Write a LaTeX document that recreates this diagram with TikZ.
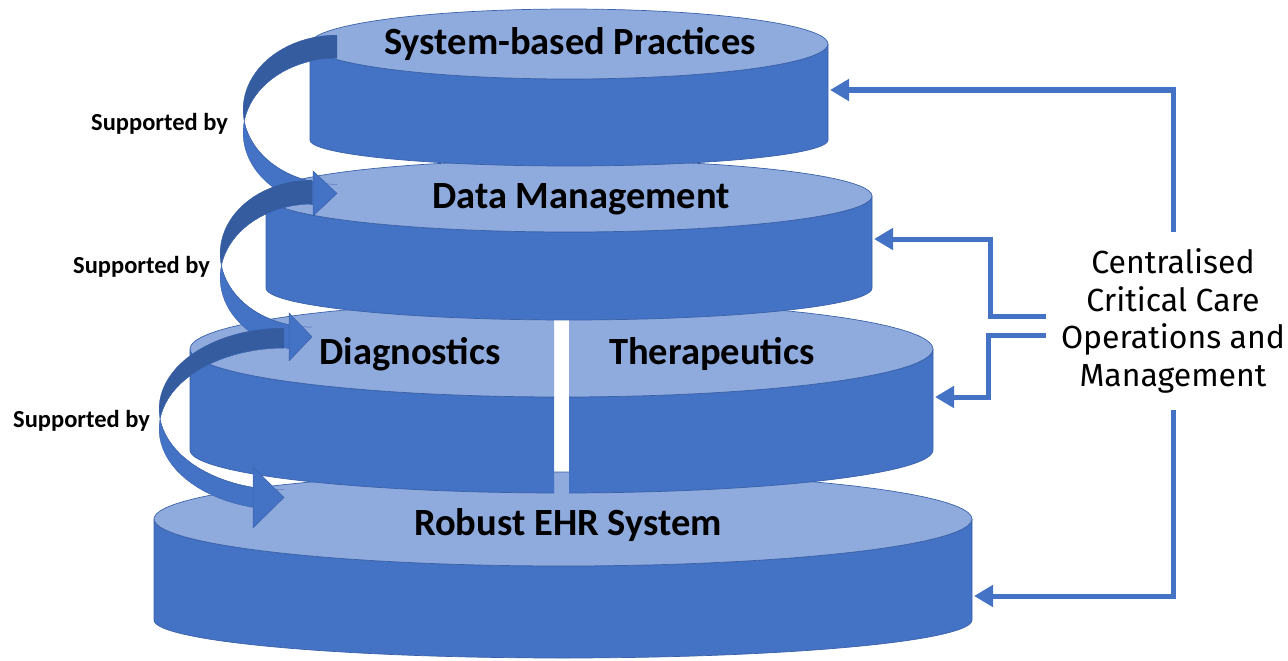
\documentclass[tikz,border=0pt]{standalone}
\usepackage{fontspec}
\setmainfont{Carlito}
\newfontfamily\dinfont{Fira Sans}
\usetikzlibrary{positioning,arrows.meta}

\definecolor{sidecol}{HTML}{4472C4}
\definecolor{topcol}{HTML}{8FAADC}
\definecolor{edgecol}{HTML}{3A62AB}
\definecolor{backcol}{HTML}{355C9F}

% layer disk: centre x, x radius, top y, top y radius, bottom y, bottom y radius
\newcommand{\layerdisk}[6]{%
  \filldraw[sidefill] plot[domain=180:360] ({#1+#2*cos(\x)},{#5-#6*sin(\x)})
    -- plot[domain=360:180] ({#1+#2*cos(\x)},{#3-#4*sin(\x)}) -- cycle;
  \filldraw[topfill] plot[domain=0:360] ({#1+#2*cos(\x)},{#3-#4*sin(\x)}) -- cycle;
}

% curved arrow: tail x, tail top y, x radius, y radius, band, head base x, head half width
\newcommand{\supportarrow}[7]{%
  \pgfmathsetmacro\headmid{#2+#4+#4*sqrt(1-((#6-#1)/#3)^2)+#5/2}
  \begin{scope}
    \clip ({#1-#3-3},{#2-3}) rectangle (#1,{#2+2*#4+#5+3});
    \clip plot[domain=0:360] ({#1+#3*cos(\x)},{#2+#4-#4*sin(\x)}) -- cycle;
    \filldraw[backfill,even odd rule]
      plot[domain=0:360] ({#1+#3*cos(\x)},{#2+#4-#4*sin(\x)}) -- cycle
      plot[domain=0:360] ({#1+#3*cos(\x)},{#2+#4+#5-#4*sin(\x)}) -- cycle;
  \end{scope}
  \begin{scope}
    \clip ({#1-#3-3},{#2-3}) rectangle (#6,{#2+2*#4+#5+3});
    \clip plot[domain=0:360] ({#1+#3*cos(\x)},{#2+#4+#5-#4*sin(\x)}) -- cycle;
    \filldraw[frontfill,even odd rule]
      plot[domain=0:360] ({#1+#3*cos(\x)},{#2+#4-#4*sin(\x)}) -- cycle
      plot[domain=0:360] ({#1+#3*cos(\x)},{#2+#4+#5-#4*sin(\x)}) -- cycle;
  \end{scope}
  \filldraw[frontfill] (#6,{\headmid-#7}) -- (#1,\headmid) -- (#6,{\headmid+#7}) -- cycle;
}

\begin{document}
\begin{tikzpicture}[
  x=1pt, y=-1pt,
  samples=90,
  sidefill/.style={fill=sidecol,draw=edgecol,line width=0.7pt},
  topfill/.style={fill=topcol,draw=edgecol,line width=0.7pt},
  backfill/.style={fill=backcol,draw=edgecol,line width=0.5pt},
  frontfill/.style={fill=sidecol,draw=edgecol,line width=0.5pt},
  layerlabel/.style={font=\fontsize{38.5}{42}\selectfont\bfseries,inner sep=0pt,anchor=base},
  suplabel/.style={font=\fontsize{24.5}{28}\selectfont\bfseries,inner sep=0pt,anchor=base west},
  feedline/.style={draw=sidecol,line width=5pt,-{Triangle[length=19pt,width=21pt]}}
]
\useasboundingbox (0,0) rectangle (1288,661);

% layers, bottom first
\layerdisk{563}{409}{519}{47}{620}{38}
\begin{scope}
  \clip (0,0) rectangle (554,661) (569,0) rectangle (1288,661);
  \layerdisk{561.5}{371.5}{349}{48}{450}{43}
\end{scope}
\layerdisk{569}{303}{196}{36}{288}{32}
\layerdisk{569}{259}{44}{35}{140}{26}

\node[layerlabel] (sbp) at (570,55) {System-based Practices};
\node[layerlabel] (dm) at (581,208) {Data Management};
\node[layerlabel] (diag) at (410,364) {Diagnostics};
\node[layerlabel] (thera) at (712,364) {Therapeutics};
\node[layerlabel] (ehr) at (568,535) {Robust EHR System};

% supported-by arrows
\supportarrow{337}{35}{94}{74.7}{23}{313}{22.5}
\supportarrow{312}{180}{92}{73.6}{24}{289}{24}
\supportarrow{284}{328}{125}{81}{20}{253}{30.5}

\node[suplabel] (sup1) at (91,130) {Supported by};
\node[suplabel] (sup2) at (73,273) {Supported by};
\node[suplabel] (sup3) at (13,427) {Supported by};

% centralised operations feeding every layer
\node[font=\dinfont\fontsize{32}{37.5}\selectfont,align=center,
  inner xsep=15pt,inner ysep=17pt] (ccom) at (1173,321)
  {Centralised\\Critical Care\\Operations and\\Management};

\coordinate (sbp-side) at (830,90);
\coordinate (dm-side) at (874,239);
\coordinate (dt-side) at (935,397);
\coordinate (ehr-side) at (974,596);

\draw[feedline] (ccom.north) |- (sbp-side);
\draw[feedline] ([yshift=5pt]ccom.west) -- ++(-55,0) |- (dm-side);
\draw[feedline] ([yshift=-14pt]ccom.west) -- ++(-57,0) |- (dt-side);
\draw[feedline] (ccom.south) |- (ehr-side);
\end{tikzpicture}
\end{document}
